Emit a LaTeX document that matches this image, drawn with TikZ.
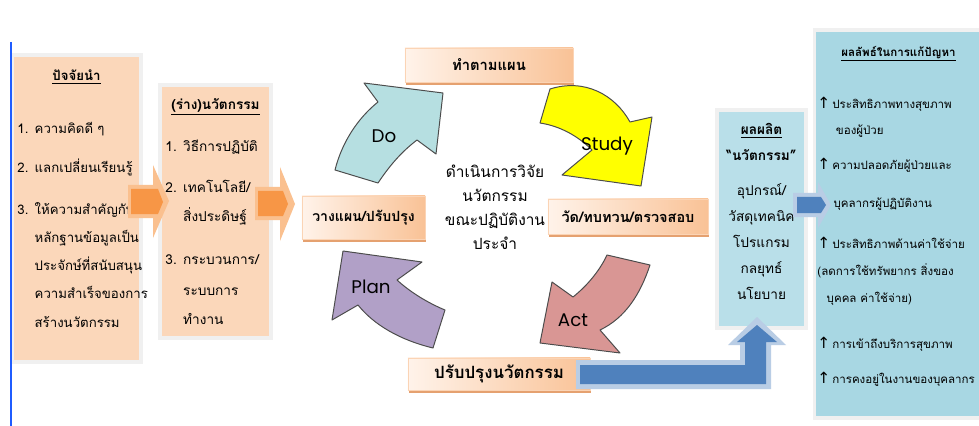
\documentclass[tikz,border=0pt]{standalone}
\usepackage{fontspec}
\newfontfamily\thai[Script=Thai]{Loma}
\newfontfamily\latinsans{Poppins}
\newfontfamily\symfont{DejaVu Sans}
\usetikzlibrary{shadows}
\definecolor{peach}{HTML}{FBD7BA}
\definecolor{peachlight}{HTML}{FFF3EA}
\definecolor{peachdeep}{HTML}{F9C296}
\definecolor{peachedge}{HTML}{E5A170}
\definecolor{aqualight}{HTML}{B9DFE9}
\definecolor{aquamid}{HTML}{A8D7E3}
\definecolor{doteal}{HTML}{B6DFE1}
\definecolor{studyyellow}{HTML}{FFFF00}
\definecolor{actrose}{HTML}{D99694}
\definecolor{planlilac}{HTML}{B1A0C7}
\definecolor{arroworange}{HTML}{F79646}
\definecolor{arrowpale}{HTML}{FAC08F}
\definecolor{arrowblue}{HTML}{4F81BD}
\definecolor{arrowglow}{HTML}{B9CDE5}
\definecolor{marginblue}{HTML}{1F5CFF}
\newcommand\upmark{{\symfont\fontsize{11}{11}\selectfont ↑}\,}
\newcommand\numbox[1]{\makebox[1.3em][l]{#1}}
\newcommand\contline{\hspace*{1.3em}}
\newcommand\boxtitle[1]{\makebox[\linewidth]{\bfseries\underline{#1}}}

\begin{document}
\begin{tikzpicture}
[x=0.025cm,y=-0.025cm,
every node/.style={font=\thai\fontsize{9.4}{20}\selectfont},
infobox/.style={rectangle,line width=2.5pt,draw=black!6,inner xsep=4pt,inner ysep=2pt,
  drop shadow={shadow xshift=1.6pt,shadow yshift=-1.6pt,fill=black!55,opacity=.8}},
factorbox/.style={infobox,fill=peach,align=left},
outbox/.style={infobox,align=center},
stepbox/.style={rectangle,inner sep=0pt,draw=peachdeep!70,line width=.3pt,
  left color=peachlight,right color=peachdeep,
  drop shadow={shadow xshift=.6pt,shadow yshift=-1.8pt,fill=peachedge,opacity=1}},
cyclearrow/.style={draw=black!70,line width=.7pt,line join=round},
cycletext/.style={font=\latinsans\fontsize{13}{15}\selectfont},
paleorange/.style={fill=arrowpale},
deeporange/.style={fill=arroworange},
paleblue/.style={fill=arrowglow},
deepblue/.style={fill=arrowblue}]

\useasboundingbox (0,0) rectangle (979,426);
\clip (0,0) rectangle (979,426);
\fill[white] (0,0) rectangle (979,426);

\node[factorbox,text width=2.95cm,minimum height=7.675cm] (factors) at (76.5,208.5) {
\boxtitle{ปัจจัยนำ}\\[17pt]
\numbox{1.}ความคิดดี ๆ\\[8pt]
\numbox{2.}แลกเปลี่ยนเรียนรู้\\[10pt]
\numbox{3.}ให้ความสำคัญกับ\\
\contline หลักฐานข้อมูลเป็น\\
\contline ประจักษ์ที่สนับสนุน\\
\contline ความสำเร็จของการ\\
\contline สร้างนวัตกรรม\\[-6pt]\mbox{}};

\node[factorbox,text width=2.5cm,minimum height=6.325cm,
  font=\thai\fontsize{9.7}{20}\selectfont] (draft) at (215.5,211.5) {
\boxtitle{(ร่าง)นวัตกรรม}\\[10pt]
\numbox{1.}วิธีการปฏิบัติ\\[9pt]
\numbox{2.}เทคโนโลยี/\\[1pt]
\contline สิ่งประดิษฐ์\\[10pt]
\numbox{3.}กระบวนการ/\\[2pt]
\contline ระบบการ\\[1pt]
\contline ทำงาน};

\node[outbox,fill=aqualight,text width=1.95cm,minimum height=5.45cm,
  font=\thai\fontsize{9.7}{18.5}\selectfont] (product) at (761.5,219) {
\textbf{\underline{ผลผลิต}}\\
\textbf{“นวัตกรรม”}\\[6pt]
อุปกรณ์/\\
วัสดุเทคนิค\\
โปรแกรม\\
กลยุทธ์\\
นโยบาย\\[-8pt]\mbox{}};

\node[infobox,fill=aquamid,align=left,text width=4.05cm,minimum height=9.7cm,inner xsep=2pt,
  font=\thai\fontsize{8.2}{19}\selectfont] (outcome) at (898.5,224) {
\boxtitle{ผลลัพธ์ในการแก้ปัญหา}\\[18pt]
\mbox{\upmark ประสิทธิภาพทางสุขภาพ}\\
\hspace*{1.6em}ของผู้ป่วย\\[6pt]
\mbox{\upmark ความปลอดภัยผู้ป่วยและ}\\[8pt]
\hspace*{1.4em}บุคลากรผู้ปฏิบัติงาน\\[10pt]
\mbox{\upmark ประสิทธิภาพด้านค่าใช้จ่าย}\\
\mbox{(ลดการใช้ทรัพยากร สิ่งของ}\\
\hspace*{.8em}บุคคล ค่าใช้จ่าย)\\[14pt]
\mbox{\upmark การเข้าถึงบริการสุขภาพ}\\[6pt]
\mbox{\upmark การคงอยู่ในงานของบุคลากร}\\[-6pt]\mbox{}};

\node[stepbox,minimum width=3.075cm,minimum height=1.075cm,
  font=\thai\bfseries\fontsize{10}{12}\selectfont] (planlbl) at (363.5,217.5) {วางแผน/ปรับปรุง};
\node[stepbox,minimum width=4.2cm,minimum height=.85cm,
  font=\thai\bfseries\fontsize{10.5}{12}\selectfont] (dolbl) at (489,65) {ทำตามแผน};
\node[stepbox,minimum width=4cm,minimum height=.875cm,
  font=\thai\bfseries\fontsize{10.3}{12}\selectfont] (studylbl) at (628,216.5) {วัด/ทบทวน/ตรวจสอบ};
\node[stepbox,minimum width=4.55cm,minimum height=.8cm,
  font=\thai\bfseries\fontsize{12}{14}\selectfont] (actlbl) at (499,374) {ปรับปรุงนวัตกรรม};

\node[align=center,font=\thai\fontsize{11}{17}\selectfont] (core) at (495,207)
  {ดำเนินการวิจัย\\นวัตกรรม\\ขณะปฏิบัติงาน\\ประจำ};

\draw[cyclearrow,fill=doteal] (335,170) -- (378,183) .. controls (392,162) and (404,150) .. (417,140)
  -- (436,154) -- (443,93) -- (364,83) -- (378,102) .. controls (358,118) and (342,142) .. (335,170) -- cycle;
\draw[cyclearrow,fill=studyyellow] (550,89) .. controls (585,78) and (615,95) .. (630,122)
  -- (652,117) -- (641,186) -- (562,175) -- (592,150) .. controls (578,136) and (560,126) .. (540,123) -- cycle;
\draw[cyclearrow,fill=actrose] (607,255) -- (650,265) .. controls (640,295) and (625,318) .. (600,330)
  -- (620,353) -- (540,343) -- (552,282) -- (573,297) .. controls (588,285) and (600,270) .. (607,255) -- cycle;
\draw[cyclearrow,fill=planlilac] (343,251) -- (422,262) -- (397,280) .. controls (410,292) and (428,303) .. (445,310)
  -- (433,348) .. controls (400,340) and (374,325) .. (358,305) -- (332,320) -- cycle;

\node[cycletext] (dotext) at (384,136) {Do};
\node[cycletext] (studytext) at (607,146) {Study};
\node[cycletext] (acttext) at (573,320) {Act};
\node[cycletext] (plantext) at (371,287) {Plan};

\fill[paleorange] (128,185) -- (153,185) -- (153,165) -- (169,201) -- (153,238) -- (153,218) -- (128,218) -- cycle;
\fill[deeporange] (131,189) -- (158,189) -- (163,202) -- (158,214) -- (131,214) -- cycle;
\fill[paleorange] (255,187) -- (280,187) -- (280,167) -- (295,204) -- (280,241) -- (280,220) -- (255,220) -- cycle;
\fill[deeporange] (258,191) -- (283,191) -- (288,204) -- (283,216) -- (258,216) -- cycle;

\fill[paleblue] (576,360) -- (740,360) -- (740,345) -- (728,345) -- (757,317) -- (786,345) -- (771,345)
  -- (771,389) -- (576,389) -- cycle;
\fill[deepblue] (580,365) -- (745,365) -- (745,342) -- (737,342) -- (757,325) -- (777,342) -- (766,342)
  -- (766,384) -- (580,384) -- cycle;
\fill[paleblue] (793,193) -- (818,193) -- (818,182) -- (831,205) -- (818,228) -- (818,217) -- (793,217) -- cycle;
\fill[deepblue] (797,197) -- (821,197) -- (826,205) -- (821,213) -- (797,213) -- cycle;

\draw[marginblue,line width=1pt] (11,42) -- (11,426);
\end{tikzpicture}
\end{document}
